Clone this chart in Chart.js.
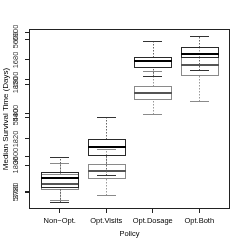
<!DOCTYPE html>
<html>
<head>
<meta charset="utf-8">
<script src="https://cdn.jsdelivr.net/npm/chart.js@4/dist/chart.umd.min.js"></script>
<style>
  html, body { margin: 0; padding: 0; background: #fff; }
  #wrap { width: 245px; height: 245px; }
</style>
</head>
<body>
<div id="wrap"><canvas id="boxChart" width="245" height="245"></canvas></div>
<script>
// Categories on the x axis
const categories = ['Non\u2212Opt.', 'Opt.Visits', 'Opt.Dosage', 'Opt.Both'];
const categoryPos = [1, 2, 3, 4];

// Y axis tick positions and the (overlapping) labels printed there
const tickValues = [8.9, 10.0, 24.4, 29.4, 38.9, 51.1, 53.3, 68.9, 71.7, 82.8, 93.9, 97.8];
const tickLabels = ['5760', '3780', '1800', '3600', '1820', '5480', '5400', '1850', '1800', '1680', '5600', '6900'];

// First boxplot series (black medians)
const lowA  = [3.9, 18.9, 73.7, 77.2];
const q1A   = [12.2, 30.0, 78.9, 84.3];
const medA  = [17.2, 34.3, 82.2, 86.3];
const q3A   = [20.6, 38.7, 84.7, 89.8];
const highA = [28.9, 51.3, 93.3, 96.3];

// Second boxplot series (grey medians)
const lowB  = [5.0, 7.8, 52.8, 60.2];
const q1B   = [11.1, 17.2, 60.9, 74.3];
const medB  = [13.9, 21.3, 64.4, 80.2];
const q3B   = [19.4, 25.0, 68.2, 84.3];
const highB = [25.6, 33.5, 76.7, 89.8];

const seriesList = [
    { low: lowB, q1: q1B, med: medB, q3: q3B, high: highB,
      box: '#8a8a8a', median: '#555555', whisker: '#9a9a9a', cap: '#8a8a8a' },
    { low: lowA, q1: q1A, med: medA, q3: q3A, high: highA,
      box: '#2a2a2a', median: '#000000', whisker: '#666666', cap: '#333333' }
];

const boxHalf = 0.4;
const capHalf = 0.2;

function crisp(v) {
    return Math.round(v) + 0.5;
}

// Draws the boxplots through the chart scales
const boxplotPlugin = {
    id: 'boxplots',
    afterDraw(chart) {
        const ctx = chart.ctx;
        const xs = chart.scales.x;
        const ys = chart.scales.y;
        ctx.save();
        seriesList.forEach(function(s) {
            categoryPos.forEach(function(c, i) {
                const xc = crisp(xs.getPixelForValue(c));
                const xl = xs.getPixelForValue(c - boxHalf);
                const xr = xs.getPixelForValue(c + boxHalf);
                const cl = xs.getPixelForValue(c - capHalf);
                const cr = xs.getPixelForValue(c + capHalf);
                const yLow = crisp(ys.getPixelForValue(s.low[i]));
                const yQ1 = crisp(ys.getPixelForValue(s.q1[i]));
                const yMed = ys.getPixelForValue(s.med[i]);
                const yQ3 = crisp(ys.getPixelForValue(s.q3[i]));
                const yHigh = crisp(ys.getPixelForValue(s.high[i]));

                // whiskers
                ctx.strokeStyle = s.whisker;
                ctx.lineWidth = 1;
                ctx.setLineDash([1.5, 1.5]);
                ctx.beginPath();
                ctx.moveTo(xc, yLow);
                ctx.lineTo(xc, yQ1);
                ctx.moveTo(xc, yQ3);
                ctx.lineTo(xc, yHigh);
                ctx.stroke();
                ctx.setLineDash([]);

                // caps
                ctx.strokeStyle = s.cap;
                ctx.beginPath();
                ctx.moveTo(Math.round(cl), yLow);
                ctx.lineTo(Math.round(cr), yLow);
                ctx.moveTo(Math.round(cl), yHigh);
                ctx.lineTo(Math.round(cr), yHigh);
                ctx.stroke();

                // box
                ctx.strokeStyle = s.box;
                ctx.strokeRect(crisp(xl), yQ3, Math.round(xr - xl), yQ1 - yQ3);

                // median
                ctx.strokeStyle = s.median;
                ctx.lineWidth = 2;
                ctx.beginPath();
                ctx.moveTo(Math.round(xl), Math.round(yMed));
                ctx.lineTo(Math.round(xr) + 1, Math.round(yMed));
                ctx.stroke();
            });
        });

        // frame round the plot region
        const a = chart.chartArea;
        ctx.strokeStyle = '#222';
        ctx.lineWidth = 1;
        ctx.strokeRect(a.left + 0.5, a.top + 0.5, a.right - a.left - 1, a.bottom - a.top - 1);
        ctx.restore();
    }
};

Chart.defaults.font.family = '"Liberation Sans", Arial, Helvetica, sans-serif';
Chart.defaults.color = '#000';

const ctx = document.getElementById('boxChart').getContext('2d');
new Chart(ctx, {
    type: 'scatter',
    data: { datasets: [] },
    plugins: [boxplotPlugin],
    options: {
        responsive: false,
        animation: false,
        devicePixelRatio: 1,
        layout: { padding: { left: 0, top: 29, right: 15, bottom: 0 } },
        plugins: {
            legend: { display: false },
            tooltip: { enabled: false }
        },
        scales: {
            x: {
                type: 'linear',
                min: 0.34,
                max: 4.66,
                afterBuildTicks: function(scale) {
                    scale.ticks = categoryPos.map(v => ({ value: v }));
                },
                afterFit: function(scale) {
                    scale.height = 36;
                },
                border: { display: false },
                grid: {
                    drawOnChartArea: false,
                    drawTicks: true,
                    tickLength: 4,
                    color: '#222',
                    tickColor: '#222'
                },
                ticks: {
                    autoSkip: false,
                    maxRotation: 0,
                    padding: 3,
                    font: { size: 7.5 },
                    callback: function(value, index) {
                        return categories[index];
                    }
                },
                title: {
                    display: true,
                    text: 'Policy',
                    font: { size: 7.5 },
                    padding: { top: 0, bottom: 7 }
                }
            },
            y: {
                type: 'linear',
                min: 0,
                max: 100,
                afterBuildTicks: function(scale) {
                    scale.ticks = tickValues.map(v => ({ value: v }));
                },
                afterFit: function(scale) {
                    scale.width = 29;
                },
                border: { display: false },
                grid: {
                    drawOnChartArea: false,
                    drawTicks: true,
                    tickLength: 4,
                    color: '#222',
                    tickColor: '#222'
                },
                ticks: {
                    autoSkip: false,
                    minRotation: 90,
                    maxRotation: 90,
                    crossAlign: 'center',
                    padding: 1,
                    color: '#333',
                    font: { size: 7.5 },
                    callback: function(value, index) {
                        return tickLabels[index];
                    }
                },
                title: {
                    display: true,
                    text: 'Median Survival Time (Days)',
                    font: { size: 8 },
                    padding: { top: 1, bottom: 0 }
                }
            }
        }
    }
});
</script>
</body>
</html>
